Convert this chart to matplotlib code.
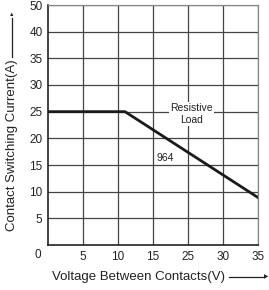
import numpy as np
import matplotlib.pyplot as plt

plt.rcParams['font.family'] = ['Liberation Sans', 'DejaVu Sans']

# curve
volts = [0, 11, 35]
amps = [25, 25, 8.9]

# axis labelling as printed (20 skipped on x, 45 skipped on y)
x_labels = ['0', '5', '10', '15', '25', '30', '35']
y_pos = [5, 10, 15, 20, 25, 30, 35, 40, 45]
y_labels = ['5', '10', '15', '20', '25', '30', '35', '40', '50']

# printed x scale is not linear: one grid division per printed label
x_vals = [float(v) for v in x_labels]
x_div = np.arange(len(x_labels))
xp = np.interp(volts, x_vals, x_div)

fig = plt.figure(figsize=(2.69, 2.90), dpi=100)
ax = fig.add_axes([48/269, 45/290, 210/269, 240/290])

ax.set_xlim(0, x_div[-1])
ax.set_ylim(0, 45)
ax.set_xticks(x_div[1:])
ax.set_xticklabels(x_labels[1:])
ax.set_yticks(y_pos)
ax.set_yticklabels(y_labels)
ax.tick_params(length=0, labelsize=8.5, colors='#222222', pad=4)
ax.grid(True, color='#444444', linewidth=0.9)
for s in ['top', 'right']:
    ax.spines[s].set_color('#888888')
    ax.spines[s].set_linewidth(0.9)
for s in ['left', 'bottom']:
    ax.spines[s].set_color('#222222')
    ax.spines[s].set_linewidth(1.2)

ax.plot(xp, amps, color='#1a1a1a', linewidth=2)

ax.text(np.interp(25.5, x_vals, x_div), 24.6, 'Resistive\nLoad', ha='center', va='center',
        fontsize=7.5, color='#222222', linespacing=1.2,
        bbox=dict(facecolor='white', edgecolor='none', pad=1))
ax.text(np.interp(18.4, x_vals, x_div), 16.4, '964', ha='center', va='center',
        fontsize=7.5, color='#222222')

# origin label
fig.text(38/269, 1 - 255/290, '0', ha='center', va='center', fontsize=8.5, color='#222222')

# axis titles with arrows
fig.text(12/269, 1 - 145/290, 'Contact Switching Current(A)', rotation=90,
         ha='center', va='center', fontsize=9.5, color='#222222')
fig.add_artist(plt.Line2D([12/269, 12/269], [1 - 57/290, 1 - 18/290], color='#222222', linewidth=0.9))
fig.text(12/269, 1 - 15/290, '\u25b2', ha='center', va='center', fontsize=4, color='#222222')

fig.text(138/269, 1 - 277/290, 'Voltage Between Contacts(V)', ha='center', va='center',
         fontsize=9.5, color='#222222')
fig.add_artist(plt.Line2D([229/269, 264/269], [1 - 277/290, 1 - 277/290], color='#222222', linewidth=0.9))
fig.text(266/269, 1 - 277/290, '\u25b6', ha='center', va='center', fontsize=4, color='#222222')

fig.savefig('out.png', dpi=100)
